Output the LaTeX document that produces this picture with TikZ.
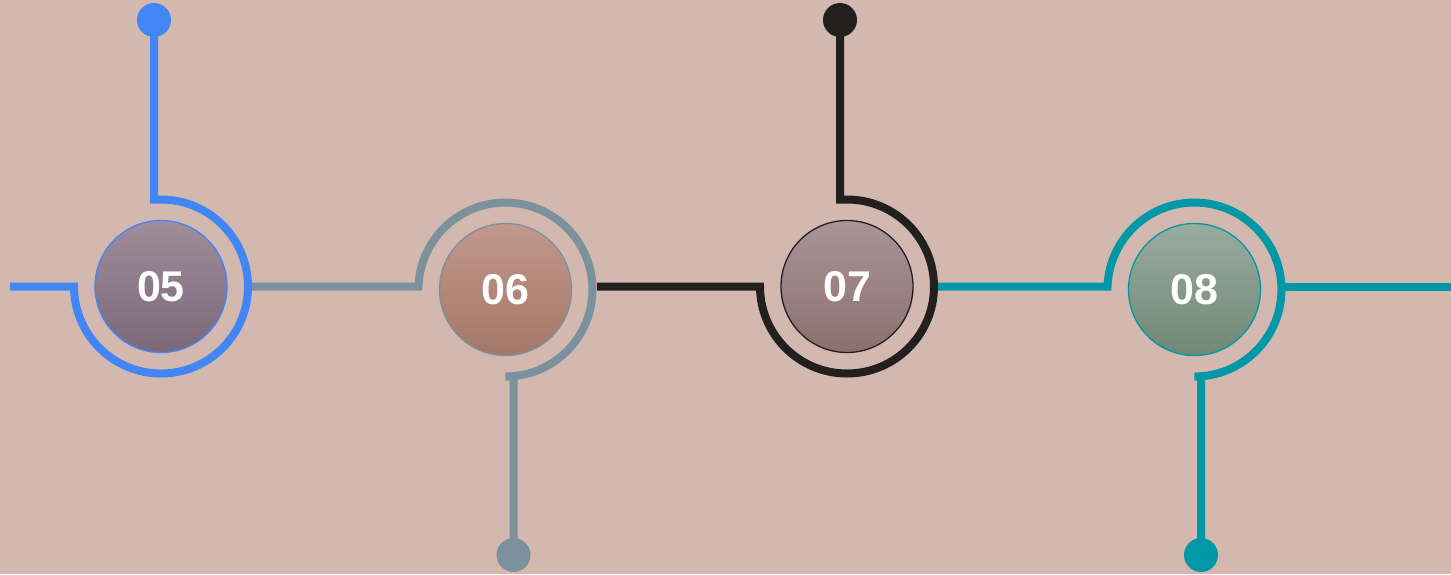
\documentclass[tikz,border=0pt]{standalone}
\usepackage{fontspec}
\setmainfont{Liberation Sans}
\usetikzlibrary{calc}
\definecolor{bg}{RGB}{211,184,176}
\definecolor{cblue}{RGB}{66,134,245}
\definecolor{cgray}{RGB}{123,146,157}
\definecolor{cblack}{RGB}{34,32,31}
\definecolor{cteal}{RGB}{0,152,166}
\definecolor{t5}{RGB}{160,140,154}\definecolor{b5}{RGB}{122,104,122}
\definecolor{t6}{RGB}{192,152,140}\definecolor{b6}{RGB}{164,120,104}
\definecolor{t7}{RGB}{170,148,150}\definecolor{b7}{RGB}{140,112,112}
\definecolor{t8}{RGB}{154,172,160}\definecolor{b8}{RGB}{112,136,118}
\begin{document}
\begin{tikzpicture}[x=1pt,y=1pt,
  conn/.style={line width=8pt},
  disc/.style={circle,minimum size=132pt,inner sep=0pt,line width=1.3pt,
    text=white,font=\fontsize{43}{43}\selectfont\bfseries},
  dotnode/.style={circle,minimum size=34pt,inner sep=0pt}]
\useasboundingbox (0,0) rectangle (1451,-574);
\fill[bg] (0,0) rectangle (1451,-574);
\coordinate (c5) at (161,-286.5);
\coordinate (c6) at (505.5,-289.5);
\coordinate (c7) at (847,-286.5);
\coordinate (c8) at (1194.5,-289.5);
\coordinate (s5) at (10,-286.5);
\coordinate (e8) at (1451,-286.5);
\node[dotnode,fill=cblue] (d5) at (154,-20) {};
\node[dotnode,fill=cgray] (d6) at (513.5,-555) {};
\node[dotnode,fill=cblack] (d7) at (840,-20) {};
\node[dotnode,fill=cteal] (d8) at (1201,-555) {};
% 05
\draw[conn,cblue] (s5) -- ($(c5)+(-87,0)$) arc[start angle=180,end angle=450,radius=87pt]
  -- (d5.center |- 0,-199.5) -- (d5.center);
% 06
\draw[conn,cgray] ($(c5)+(91,0)$) -- ($(c6)+(-87,3)$) arc[start angle=178,end angle=-90,radius=87pt]
  -- (d6.center |- 0,-376.5) -- (d6.center);
% 07
\draw[conn,cblack] ($(c6)+(91.5,3)$) -- ($(c7)+(-87,0)$) arc[start angle=180,end angle=450,radius=87pt]
  -- (d7.center |- 0,-199.5) -- (d7.center);
% 08
\draw[conn,cteal] ($(c7)+(91,0)$) -- ($(c8)+(-87,3)$) arc[start angle=178,end angle=-90,radius=87pt]
  -- (d8.center |- 0,-376.5) -- (d8.center);
\draw[conn,cteal] ($(c8)+(89,3)$) -- (e8);
% discs
\node[disc,top color=t5,bottom color=b5,draw=cblue] (n5) at (c5) {05};
\node[disc,top color=t6,bottom color=b6,draw=cgray] (n6) at (c6) {06};
\node[disc,top color=t7,bottom color=b7,draw=cblack] (n7) at (c7) {07};
\node[disc,top color=t8,bottom color=b8,draw=cteal] (n8) at (c8) {08};
\end{tikzpicture}
\end{document}
